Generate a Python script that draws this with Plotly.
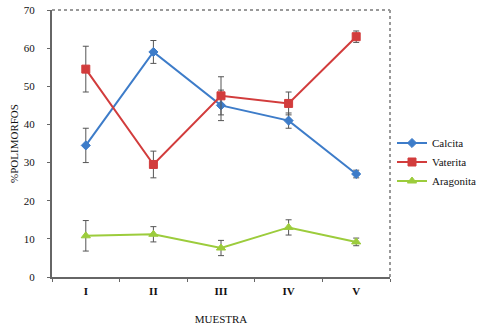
import plotly.graph_objects as go

muestras = ["I", "II", "III", "IV", "V"]
calcita = [34.5, 59.0, 45.0, 41.0, 27.0]
calcita_err = [4.5, 3.0, 4.0, 2.0, 1.0]
vaterita = [54.5, 29.5, 47.5, 45.5, 63.0]
vaterita_err = [6.0, 3.5, 5.0, 3.0, 1.5]
aragonita = [10.8, 11.2, 7.6, 13.0, 9.2]
aragonita_err = [4.0, 2.0, 2.0, 2.0, 1.0]

FONT = "Liberation Serif"
TXT = "#111111"

fig = go.Figure()

def add(name, y, err, color, symbol, size):
    fig.add_trace(go.Scatter(
        x=muestras, y=y, name=name, mode="lines+markers",
        line=dict(color=color, width=2),
        marker=dict(symbol=symbol, size=size, color=color,
                    line=dict(color=color, width=1)),
        error_y=dict(type="data", array=err, visible=True,
                     color="#555555", thickness=1, width=3),
    ))

add("Calcita", calcita, calcita_err, "#3d7cc9", "diamond", 7)
add("Vaterita", vaterita, vaterita_err, "#d23c3c", "square", 8)
add("Aragonita", aragonita, aragonita_err, "#9ccc3c", "triangle-up", 8)

fig.update_layout(
    width=485, height=328,
    margin=dict(l=52, r=95, t=10, b=51),
    paper_bgcolor="white", plot_bgcolor="white",
    font=dict(family=FONT, size=11, color=TXT),
    showlegend=True,
    legend=dict(xref="container", yref="container", x=392/485, y=1 - 162/328,
                xanchor="left", yanchor="middle",
                font=dict(family=FONT, size=11, color=TXT),
                itemwidth=30, tracegroupgap=0, bgcolor="rgba(0,0,0,0)"),
    xaxis=dict(
        type="category", range=[-0.5, 4.5], automargin=False,
        showline=True, linecolor="#666666", linewidth=2,
        ticks="outside", ticklen=3, tickcolor="#666666",
        tickson="boundaries", showgrid=False, zeroline=False,
        ticklabelstandoff=3,
        tickfont=dict(family=FONT, size=11, color=TXT, weight="bold"),
        title=dict(text="MUESTRA", font=dict(family=FONT, size=11, color=TXT), standoff=19),
    ),
    yaxis=dict(
        range=[0, 70], dtick=10, automargin=False,
        showline=True, linecolor="#666666", linewidth=2,
        ticks="outside", ticklen=3, tickcolor="#666666",
        showgrid=False, zeroline=False,
        ticklabelstandoff=10,
        tickfont=dict(family=FONT, size=11, color=TXT),
        title=dict(text="%POLIMORFOS", font=dict(family=FONT, size=11, color=TXT), standoff=3),
    ),
    shapes=[
        dict(type="line", xref="paper", yref="paper", x0=0, x1=1, y0=1, y1=1,
             line=dict(color="#999999", width=2, dash="dot")),
        dict(type="line", xref="paper", yref="paper", x0=1, x1=1, y0=0, y1=1,
             line=dict(color="#999999", width=2, dash="dot")),
    ],
)

post = ("document.body.style.margin='0';document.body.style.overflow='hidden';"
        "var gd=document.getElementById('{plot_id}');"
        "Plotly.relayout(gd,{width:485,height:328});")

fig.write_html("out.html", post_script=post,
               config={"responsive": False, "displayModeBar": False})
